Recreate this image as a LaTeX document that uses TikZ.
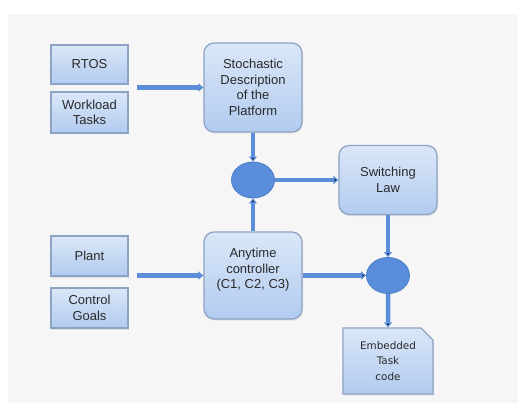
\documentclass[tikz,border=0pt]{standalone}
\usepackage{fontspec}
\setmainfont{Liberation Sans}
\newfontfamily\embfont{DejaVu Sans}
\usetikzlibrary{positioning,shapes.geometric,shapes.misc,arrows.meta,shadows}

\definecolor{boxtop}{HTML}{DAE7F8}
\definecolor{boxbot}{HTML}{B2CBEF}
\definecolor{boxline}{HTML}{8DA3C4}
\definecolor{flow}{HTML}{5B8ED8}
\definecolor{mixfill}{HTML}{5A8DDC}
\definecolor{mixline}{HTML}{4A7CC6}
\definecolor{panel}{HTML}{F6F6F6}
\definecolor{txt}{HTML}{2A2A2A}

\tikzset{
  block/.style={draw=boxline, line width=1.2pt, top color=boxtop, bottom color=boxbot,
    text=txt, align=center, inner sep=2pt,
    font=\fontsize{13}{15.5}\selectfont,
    drop shadow={opacity=0.18, shadow xshift=1pt, shadow yshift=-1.5pt}},
  input/.style={block, minimum width=77pt},
  stage/.style={block, rounded corners=10pt, minimum width=98pt},
  mixer/.style={ellipse, draw=mixline, line width=0.8pt, fill=mixfill,
    minimum width=43pt, minimum height=36pt, inner sep=0pt},
  output/.style={block, chamfered rectangle, chamfered rectangle corners=north east,
    chamfered rectangle xsep=6pt, chamfered rectangle ysep=6pt,
    minimum width=90pt, minimum height=66pt,
    font=\embfont\fontsize{10.4}{15.7}\selectfont},
  flowline/.style={draw=flow, line width=4.5pt, -{Triangle[width=8pt,length=5pt]}}
}

\begin{document}
\begin{tikzpicture}[x=1pt,y=1pt,node distance=90pt,on grid]
   \fill[white] (0,0) rectangle (518,-403);
   \fill[panel] (8,-14) rectangle (518,-403);
   \useasboundingbox (0,0) rectangle (518,-403);

   \node[stage, minimum height=89pt] (stoch) at (253,-87.5) {Stochastic\\Description\\of the\\Platform};
   \node[mixer] (mix1) [below=92.5pt of stoch] {};
   \node[stage, minimum height=87pt] (anytime) [below=95.5pt of mix1] {Anytime\\controller\\(C1, C2, C3)\\[-2pt]\mbox{}};
   \node[stage, minimum height=69pt] (switch) [right=135pt of mix1] {Switching\\Law};
   \node[mixer] (mix2) [right=135pt of anytime] {};
   \node[output] (embed) [below=85.5pt of mix2] {Embedded\\Task\\code};

   \node[input, minimum height=39pt] (rtos) [above left=23pt and 163.5pt of stoch] {RTOS};
   \node[input, minimum height=41pt] (work) [below=48pt of rtos] {Workload\\Tasks};
   \node[input, minimum height=40pt] (plant) [above left=19.5pt and 163.5pt of anytime] {Plant};
   \node[input, minimum height=40pt] (goals) [below=52pt of plant] {Control\\Goals};

   % free ends of the two input arrows
   \coordinate[left=66pt of stoch.west] (in1);
   \coordinate[left=66pt of anytime.west] (in2);

   \draw[flowline] (in1) -- (stoch.west);
   \draw[flowline] (in2) -- (anytime.west);
   \path[flowline]
     (stoch) edge (mix1)
     (anytime) edge (mix1)
     (mix1) edge (switch)
     (anytime) edge (mix2)
     (switch) edge (mix2)
     (mix2) edge (embed);
\end{tikzpicture}
\end{document}
